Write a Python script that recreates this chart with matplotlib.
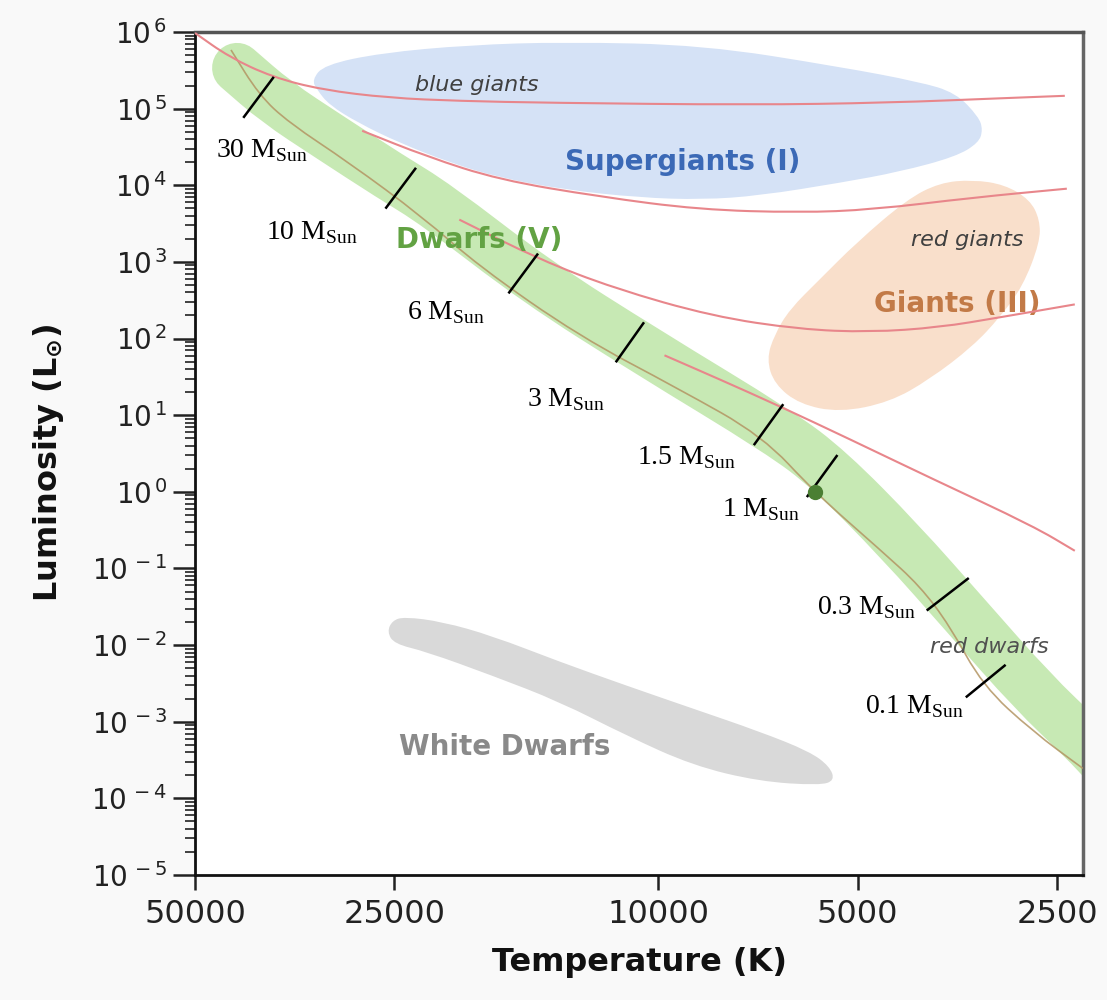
"""
Hertzsprung-Russell diagram with main-sequence mass markers.
"""

import matplotlib

matplotlib.use("Agg")
import matplotlib.pyplot as plt
import numpy as np
from matplotlib.patches import PathPatch
from matplotlib.path import Path
from matplotlib.ticker import FixedFormatter, FixedLocator, LogLocator, NullLocator

# ---- data (temperature in K, luminosity in L_sun) ----
# main-sequence band, centre line
band_T = [43200, 37720, 31370, 25460, 21620, 15270, 10410, 6558, 5511, 4321, 3422, 2720, 2286, 2082]
band_L = [3.4e5, 1.23e5, 4.3e4, 1.33e4, 5.6e3, 556, 68, 6.0, 1.92, 0.229, 0.0234, 2.47e-3, 5.9e-4, 2.46e-4]

# thin track drawn inside the band
zams_T = [44120, 40030, 36060, 29270, 22710, 18620, 13150, 9288, 6958, 5807, 4584, 4030, 3631, 3237, 2720, 2286]
zams_L = [5.83e5, 1.51e5, 6.53e4, 1.97e4, 3.9e3, 871, 107, 21.8, 5.33, 0.99, 0.164, 0.0593, 0.0179, 2.96e-3, 7.45e-4, 2.46e-4]

# red guide curves
red1_T = [50000, 44420, 38260, 32150, 25460, 19960, 14600, 7279, 4521, 2947, 2434]
red1_L = [9.7e5, 4.73e5, 2.59e5, 1.76e5, 1.38e5, 1.26e5, 1.19e5, 1.12e5, 1.19e5, 1.38e5, 1.47e5]
red2_T = [27970, 22310, 17370, 12270, 8662, 6117, 4746, 3352, 2417]
red2_L = [5.14e4, 2.36e4, 1.18e4, 7110, 4810, 4400, 4810, 6900, 9030]
red3_T = [19960, 15110, 11640, 8279, 6117, 4796, 3760, 3051, 2351]
red3_L = [3565, 1075, 451, 195, 132, 121, 140, 189, 279]
red4_T = [9783, 8081, 6558, 5142, 3852, 2720, 2351]
red4_L = [60.4, 29.4, 13.1, 4.87, 1.47, 0.359, 0.170]

# regions
supergiant_T = [33290, 31930, 26180, 19280, 13860, 8572, 5304, 4030, 3556, 3283, 3237, 3283, 3556,
                4321, 5304, 7031, 8572, 10670, 13860, 17370, 20600, 24590, 28370, 31370, 32720]
supergiant_L = [2.37e5, 3.72e5, 5.33e5, 6.77e5, 7.41e5, 6.77e5, 3.50e5, 2.23e5, 1.61e5, 7.82e4, 5.30e4,
                3.59e4, 2.36e4, 1.50e4, 1.08e4, 7320, 6494, 6900, 8770, 1.26e4, 1.97e4, 3.59e4,
                6.53e4, 1.12e5, 1.76e5]
giant_T = [3352, 3000, 2749, 2655, 2655, 2817, 3051, 3352, 3892, 4474, 5322, 6117, 6673, 6862,
           6673, 6334, 5706, 5018, 4217, 3760]
giant_L = [1.18e4, 1.02e4, 6494, 3565, 1790, 479, 189, 79.1, 29.4, 14.8, 10.9, 13.9, 25.3, 53.6,
           113, 240, 590, 1790, 6494, 1.08e4]
wd_T = [25640, 25200, 24170, 21180, 17800, 14100, 11170, 8875, 7031, 5909, 5511, 5415, 5706,
        7031, 8875, 11170, 14100, 17800, 22390, 25030]
wd_L = [0.0149, 0.0208, 0.0234, 0.0202, 0.0132, 6.08e-3, 2.96e-3, 1.49e-3, 7.45e-4, 4.09e-4,
        2.61e-4, 1.71e-4, 1.48e-4, 1.66e-4, 2.69e-4, 6.61e-4, 1.83e-3, 4.00e-3, 8.20e-3, 0.0104]

# mass markers across the band
mass_names = ["30", "10", "6", "3", "1.5", "1", "0.3", "0.1"]
mark_T0 = [42170, 25730, 16780, 11560, 7154, 5950, 3920, 3422]
mark_L0 = [7.82e4, 5110, 400, 50.5, 4.19, 0.88, 0.0289, 2.13e-3]
mark_T1 = [38120, 23260, 15220, 10530, 6491, 5378, 3410, 3000]
mark_L1 = [2.52e5, 1.64e4, 1248, 158, 13.5, 2.93, 0.0733, 5.40e-3]
label_T = [46480, 39060, 23910, 15760, 10780, 8024, 5766, 4880]
label_L = [2.29e4, 1959, 178, 13.1, 2.30, 0.484, 0.0256, 1.28e-3]

sun_T, sun_L = 5807, 1.0

x_ticks = [50000, 25000, 10000, 5000, 2500]
y_exponents = list(range(-5, 7))


def _gmid(a, b):
    # midpoint on a log-log chart
    return (np.sqrt(a[0] * b[0]), np.sqrt(a[1] * b[1]))


def smooth_open(T, L):
    pts = list(zip(T, L))
    verts = [pts[0], _gmid(pts[0], pts[1])]
    codes = [Path.MOVETO, Path.LINETO]
    for i in range(1, len(pts) - 1):
        verts += [pts[i], _gmid(pts[i], pts[i + 1])]
        codes += [Path.CURVE3, Path.CURVE3]
    verts.append(pts[-1])
    codes.append(Path.LINETO)
    return Path(verts, codes)


def smooth_closed(T, L):
    pts = list(zip(T, L))
    n = len(pts)
    verts = [_gmid(pts[-1], pts[0])]
    codes = [Path.MOVETO]
    for i in range(n):
        verts += [pts[i], _gmid(pts[i], pts[(i + 1) % n])]
        codes += [Path.CURVE3, Path.CURVE3]
    verts.append(verts[0])
    codes.append(Path.CLOSEPOLY)
    return Path(verts, codes)


# ---- figure ----
fig = plt.figure(figsize=(11.07, 10.0), dpi=100, facecolor="#f9f9f9")
ax = fig.add_axes([195 / 1107, 0.125, 888 / 1107, 0.843])
ax.set_facecolor("white")
ax.set_xscale("log")
ax.set_yscale("log")
ax.set_xlim(50000, 2285)
ax.set_ylim(1e-5, 1e6)

for T, L, col in [(supergiant_T, supergiant_L, "#d5e2f6"),
                  (giant_T, giant_L, "#f9dfcb"),
                  (wd_T, wd_L, "#d9d9d9")]:
    ax.add_patch(PathPatch(smooth_closed(T, L), facecolor=col, edgecolor="none", zorder=1))

ax.add_patch(PathPatch(smooth_open(band_T, band_L), fill=False, edgecolor="#c7e9b4", lw=36,
                       capstyle="round", joinstyle="round", zorder=2))
ax.add_patch(PathPatch(smooth_open(zams_T, zams_L), fill=False, edgecolor="#b39563", lw=1.2,
                       alpha=0.85, zorder=3))

for T, L in [(red1_T, red1_L), (red2_T, red2_L), (red3_T, red3_L), (red4_T, red4_L)]:
    ax.add_patch(PathPatch(smooth_open(T, L), fill=False, edgecolor="#e8868b", lw=1.5, zorder=3))

for i, name in enumerate(mass_names):
    ax.plot([mark_T0[i], mark_T1[i]], [mark_L0[i], mark_L1[i]], color="black", lw=1.8, zorder=5)
    ax.text(label_T[i], label_L[i], name + r" M$_{\mathregular{Sun}}$", fontsize=20,
            family="Liberation Serif", ha="left", va="baseline", zorder=6)

ax.plot([sun_T], [sun_L], "o", ms=10, color="#4b7f33", zorder=6)

# region labels
ax.text(18750, 2.04e5, "blue giants", style="italic", fontsize=16, color="#404040",
        ha="center", va="center", zorder=4)
ax.text(9192, 2.03e4, "Supergiants (I)", fontweight="bold", fontsize=20, color="#3b69b6",
        ha="center", va="center", zorder=4)
ax.text(18620, 1959, "Dwarfs (V)", fontweight="bold", fontsize=20, color="#62a243",
        ha="center", va="center", zorder=4)
ax.text(3422, 1959, "red giants", style="italic", fontsize=16, color="#404040",
        ha="center", va="center", zorder=4)
ax.text(3543, 279, "Giants (III)", fontweight="bold", fontsize=20, color="#c27a47",
        ha="center", va="center", zorder=2.5)
ax.text(3159, 9.53e-3, "red dwarfs", style="italic", fontsize=16, color="#505050",
        ha="center", va="center", zorder=4)
ax.text(17070, 4.75e-4, "White Dwarfs", fontweight="bold", fontsize=20, color="#8a8a8a",
        ha="center", va="center", zorder=4)

# axes styling
ax.xaxis.set_major_locator(FixedLocator(x_ticks))
ax.xaxis.set_major_formatter(FixedFormatter([str(t) for t in x_ticks]))
ax.xaxis.set_minor_locator(NullLocator())
ax.yaxis.set_major_locator(FixedLocator([10.0 ** k for k in y_exponents]))
ax.yaxis.set_major_formatter(FixedFormatter(
    [r"$\mathregular{10^{\,%d}}$" % k for k in y_exponents]))
ax.yaxis.set_minor_locator(LogLocator(base=10, subs=np.arange(2, 10), numticks=20))

ax.tick_params(axis="x", which="major", direction="out", length=11, width=1.8,
               labelsize=23, pad=6, colors="#222222")
ax.tick_params(axis="y", which="major", direction="out", length=16, width=1.8,
               labelsize=20, pad=4, colors="#222222")
ax.tick_params(axis="y", which="minor", direction="out", length=7, width=1.2,
               colors="#222222")

for side in ["left", "bottom"]:
    ax.spines[side].set_color("#111111")
    ax.spines[side].set_linewidth(2.0)
ax.spines["top"].set_color("#555555")
ax.spines["top"].set_linewidth(2.5)
ax.spines["right"].set_color("#666666")
ax.spines["right"].set_linewidth(2.5)

fig.text(640 / 1107, 1 - 963 / 1000, "Temperature (K)", fontsize=23, fontweight="bold",
         ha="center", va="center", color="#111111")
fig.text(48 / 1107, 1 - 463 / 1000, r"Luminosity (L$_{\mathbf{\odot}}$)", fontsize=23,
         fontweight="bold", rotation=90, ha="center", va="center", color="#111111")

fig.savefig("out.png", dpi=100, facecolor=fig.get_facecolor())
plt.close(fig)
